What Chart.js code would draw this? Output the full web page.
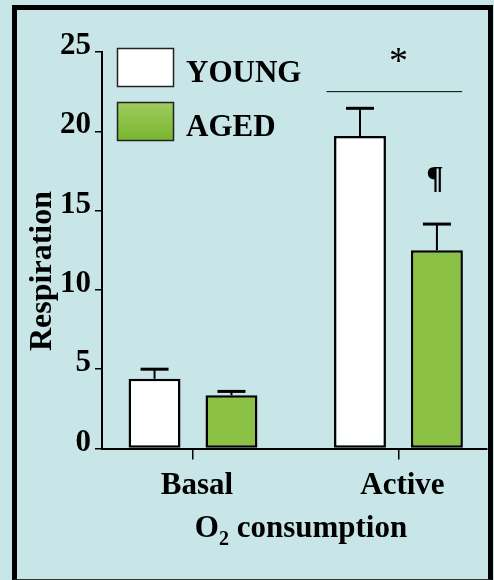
<!DOCTYPE html>
<html>
<head>
<meta charset="utf-8">
<script src="https://cdn.jsdelivr.net/npm/chart.js@4/dist/chart.umd.min.js"></script>
<style>
  body { margin: 0; background: #c8e6e8; }
  #marco { position: absolute; left: 12px; top: 5px; width: 481px; height: 575px; box-sizing: border-box; border: 5px solid #000; border-bottom: 1px solid #333; }
  #cvsRespiracion { position: absolute; left: 0; top: 0; }
</style>
</head>
<body>
<div id="marco"></div>
<canvas id="cvsRespiracion" width="494" height="580"></canvas>
<script>
// ! Datos
const categorias = ['Basal', 'Active'];
const young = [4.4, 19.7];
const aged = [3.35, 12.5];
const youngErr = [0.6, 1.75];
const agedErr = [0.25, 1.65];
const yTicks = [0, 5, 10, 15, 20, 25];

const serif = '"Liberation Serif", "Times New Roman", serif';
const verde = '#8bc145';

// ! Barras de error (solo hacia arriba)
const errorBars = {
  id: 'errorBars',
  afterDatasetsDraw(chart) {
    const ctx = chart.ctx;
    const y = chart.scales.y;
    [youngErr, agedErr].forEach((errs, d) => {
      const meta = chart.getDatasetMeta(d);
      meta.data.forEach((bar, i) => {
        const top = y.getPixelForValue(chart.data.datasets[d].data[i].y + errs[i]);
        ctx.save();
        ctx.strokeStyle = '#000';
        ctx.lineWidth = 2;
        ctx.beginPath();
        ctx.moveTo(bar.x, bar.y);
        ctx.lineTo(bar.x, top);
        ctx.stroke();
        ctx.lineWidth = 3;
        ctx.beginPath();
        ctx.moveTo(bar.x - 14, top);
        ctx.lineTo(bar.x + 14, top);
        ctx.stroke();
        ctx.restore();
      });
    });
  }
};

// ! Leyenda, titulos y marcas de significancia
const extras = {
  id: 'extras',
  afterDraw(chart) {
    const ctx = chart.ctx;
    const x = chart.scales.x;
    const y = chart.scales.y;
    ctx.save();

    // leyenda
    chart.data.datasets.forEach((ds, i) => {
      const top = 48 + i * 54;
      let fill = ds.backgroundColor;
      if (i === 1) {
        fill = ctx.createLinearGradient(0, top, 0, top + 39);
        fill.addColorStop(0, '#9ecd60');
        fill.addColorStop(1, '#7ab52e');
      }
      ctx.fillStyle = fill;
      ctx.fillRect(117, top, 57, 39);
      ctx.strokeStyle = '#222';
      ctx.lineWidth = 1.5;
      ctx.strokeRect(117.5, top + 0.5, 56, 38);
      ctx.fillStyle = '#000';
      ctx.font = `bold 31px ${serif}`;
      ctx.textAlign = 'left';
      ctx.textBaseline = 'alphabetic';
      ctx.fillText(ds.label, 186, top + 34);
    });

    // titulo eje y
    ctx.save();
    ctx.translate(51, 271);
    ctx.rotate(-Math.PI / 2);
    ctx.font = `bold 32px ${serif}`;
    ctx.textAlign = 'center';
    ctx.fillText('Respiration', 0, 0);
    ctx.restore();

    // titulo eje x: O2 consumption
    ctx.font = `bold 31px ${serif}`;
    const wO = ctx.measureText('O').width;
    const wRest = ctx.measureText(' consumption').width;
    ctx.font = `bold 20px ${serif}`;
    const w2 = ctx.measureText('2').width;
    let sx = 301 - (wO + w2 + wRest) / 2;
    ctx.textAlign = 'left';
    ctx.font = `bold 31px ${serif}`;
    ctx.fillText('O', sx, 537);
    ctx.font = `bold 20px ${serif}`;
    ctx.fillText('2', sx + wO, 545);
    ctx.font = `bold 31px ${serif}`;
    ctx.fillText(' consumption', sx + wO + w2, 537);

    // linea y asterisco
    const ly = y.getPixelForValue(22.5);
    ctx.strokeStyle = '#000';
    ctx.lineWidth = 1;
    ctx.beginPath();
    ctx.moveTo(x.getPixelForValue(0.65), ly);
    ctx.lineTo(x.getPixelForValue(1.31), ly);
    ctx.stroke();
    ctx.font = `38px ${serif}`;
    ctx.textAlign = 'center';
    ctx.fillText('*', x.getPixelForValue(1), y.getPixelForValue(24.8) + 18);

    // pilcrow sobre la barra AGED activa
    const barAged = chart.getDatasetMeta(1).data[1];
    ctx.font = `bold 32px ${serif}`;
    ctx.fillText('\u00b6', barAged.x - 2, y.getPixelForValue(16.45));

    ctx.restore();
  }
};

const cvsRespiracion = document.getElementById('cvsRespiracion');
new Chart(cvsRespiracion, {
  type: 'bar',
  data: {
    datasets: [{
      label: 'YOUNG',
      data: young.map((v, i) => ({ x: i, y: v })),
      backgroundColor: '#ffffff',
      borderColor: '#000',
      borderWidth: 2.5,
      borderSkipped: false
    }, {
      label: 'AGED',
      data: aged.map((v, i) => ({ x: i, y: v })),
      backgroundColor: verde,
      borderColor: '#000',
      borderWidth: 2.5,
      borderSkipped: false
    }]
  },
  options: {
    responsive: false,
    animation: false,
    devicePixelRatio: 1,
    categoryPercentage: 0.749,
    barPercentage: 0.675,
    layout: { padding: { top: 52, bottom: 72, left: 0, right: 7 } },
    plugins: { legend: { display: false }, tooltip: { enabled: false } },
    scales: {
      x: {
        type: 'linear',
        min: -0.443,
        max: 1.431,
        offset: false,
        afterFit: s => { s.height = 59.5; },
        afterBuildTicks: s => { s.ticks = categorias.map((c, i) => ({ value: i })); },
        grid: { offset: false, drawOnChartArea: false, drawTicks: true, tickLength: 11, color: '#000', lineWidth: 1.5 },
        border: { display: true, color: '#000', width: 2 },
        ticks: {
          padding: 8,
          labelOffset: 4,
          color: '#000',
          font: { family: serif, size: 31, weight: 'bold' },
          callback: v => categorias[v]
        }
      },
      y: {
        min: 0,
        max: 25,
        afterFit: s => { s.width = 102; },
        afterBuildTicks: s => { s.ticks = yTicks.map(v => ({ value: v })); },
        grid: { drawOnChartArea: false, drawTicks: true, tickLength: 7, color: '#000', lineWidth: 1.5 },
        border: { display: true, color: '#000', width: 2 },
        ticks: {
          padding: 4,
          labelOffset: -6,
          color: '#000',
          font: { family: serif, size: 31, weight: 'bold' }
        }
      }
    }
  },
  plugins: [errorBars, extras]
});
</script>
</body>
</html>
